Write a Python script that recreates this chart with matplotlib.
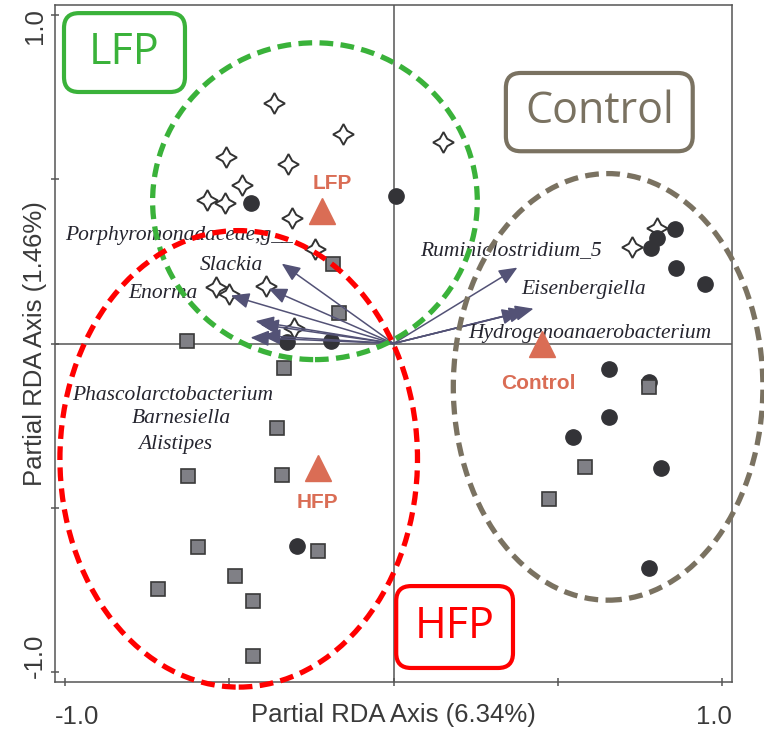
import numpy as np
import matplotlib
matplotlib.use('Agg')
import matplotlib.pyplot as plt
from matplotlib.patches import Ellipse, FancyBboxPatch

# Sample scores
lfp_x = [-0.365, -0.155, 0.152, -0.511, -0.322, -0.462, -0.568, -0.514, -0.310,
         -0.240, -0.541, -0.501, -0.389, -0.304, 0.726, 0.802]
lfp_y = [0.733, 0.638, 0.614, 0.568, 0.547, 0.483, 0.438, 0.429, 0.383,
         0.289, 0.173, 0.152, 0.176, 0.046, 0.295, 0.350]

ctrl_x = [-0.435, 0.009, -0.325, -0.191, 0.857, 0.802, 0.784, 0.860, 0.948,
          0.657, 0.778, 0.657, 0.547, 0.815, 0.778, -0.295]
ctrl_y = [0.429, 0.450, 0.006, 0.009, 0.347, 0.322, 0.292, 0.231, 0.182,
          -0.079, -0.118, -0.225, -0.286, -0.380, -0.684, -0.617]

hfp_x = [-0.185, -0.167, -0.629, -0.334, -0.356, -0.626, -0.340, -0.596, -0.231,
         -0.483, -0.717, -0.429, -0.429, 0.778, 0.584, 0.474]
hfp_y = [0.243, 0.094, 0.009, -0.076, -0.258, -0.404, -0.401, -0.620, -0.632,
         -0.708, -0.748, -0.784, -0.951, -0.131, -0.377, -0.474]

# Group centroids
groups = ['LFP', 'HFP', 'Control']
cent_x = [-0.219, -0.229, 0.453]
cent_y = [0.404, -0.378, 0.000]
cent_lab_x = [-0.185, -0.231, 0.441]
cent_lab_y = [0.488, -0.485, -0.122]

# Genus vectors (arrow tips)
arrow_x = [-0.340, -0.380, -0.495, -0.420, -0.405, -0.435, -0.400, 0.377, 0.426, 0.407, 0.386]
arrow_y = [0.243, 0.167, 0.146, 0.068, 0.058, 0.018, 0.024, 0.231, 0.106, 0.100, 0.095]

genus = ['Porphyromonadaceae,g__', 'Slackia', 'Enorma', 'Ruminiclostridium_5',
         'Eisenbergiella', 'Hydrogenoanaerobacterium', 'Phascolarctobacterium',
         'Barnesiella', 'Alistipes']
genus_x = [-0.652, -0.492, -0.702, 0.356, 0.578, 0.596, -0.672, -0.647, -0.663]
genus_y = [0.328, 0.237, 0.152, 0.283, 0.164, 0.030, -0.158, -0.228, -0.307]

# Confidence ellipses: centre x, centre y, width, height
ell_x = [-0.239, -0.471, 0.653]
ell_y = [0.433, -0.351, -0.132]
ell_w = [0.988, 1.088, 0.942]
ell_h = [0.964, 1.389, 1.298]

green = '#3AB23A'
red = '#FF0000'
brown = '#7A7261'
coral = '#DA6D55'
arrow_col = '#535276'
axis_col = '#555555'
label_col = '#3A3A3A'
ell_cols = [green, red, brown]

fig = plt.figure(figsize=(7.64, 7.29), dpi=100)
ax = fig.add_axes([55/764, 47/729, 677/764, 677/729])
ax.set_xlim(-1.03, 1.03)
ax.set_ylim(-1.03, 1.03)

# zero lines
ax.axhline(0, color=axis_col, lw=1.1, zorder=1)
ax.axvline(0, color=axis_col, lw=1.1, zorder=1)

# samples
ax.plot(lfp_x, lfp_y, ls='none', marker=(4, 1, 0), ms=15, mfc='white',
        mec='#333333', mew=1.4, zorder=2)
ax.plot(ctrl_x, ctrl_y, ls='none', marker='o', ms=11, mfc='#333337',
        mec='#333337', zorder=2.1)
ax.plot(hfp_x, hfp_y, ls='none', marker='s', ms=10, mfc='#808086',
        mec='#3A3A3A', mew=1.2, zorder=2.2)

# genus vectors
for tx, ty in zip(arrow_x, arrow_y):
    ax.annotate('', xy=(tx, ty), xytext=(0, 0),
                arrowprops=dict(arrowstyle='-|>,head_length=0.7,head_width=0.3',
                                color=arrow_col, lw=1.1,
                                mutation_scale=16, shrinkA=0, shrinkB=0),
                zorder=3)

for name, gx, gy in zip(genus, genus_x, genus_y):
    ax.text(gx, gy, name, ha='center', va='center', fontsize=15.5,
            family='Liberation Serif', style='italic', color='#25252F', zorder=3.5)

# centroids
ax.plot(cent_x, cent_y, ls='none', marker='^', ms=19, mfc=coral, mec=coral, zorder=3.6)
for g, lx, ly in zip(groups, cent_lab_x, cent_lab_y):
    ax.text(lx, ly, g, ha='center', va='center', fontsize=15, fontweight='bold',
            family='Liberation Sans', color=coral, zorder=3.6)

# dashed ellipses
for cx, cy, w, h, c in zip(ell_x, ell_y, ell_w, ell_h, ell_cols):
    ax.add_patch(Ellipse((cx, cy), w, h, fill=False, ec=c, lw=3.8,
                         ls=(0, (2.6, 1.4)), clip_on=False, zorder=4))

# group boxes (axes fraction)
boxes = [('LFP', 0.0133, 0.8715, 0.1787, 0.1165, green),
         ('Control', 0.666, 0.784, 0.276, 0.1156, brown),
         ('HFP', 0.504, 0.0207, 0.1725, 0.121, red)]
for txt, bx, by, bw, bh, c in boxes:
    ax.add_patch(FancyBboxPatch((bx, by), bw, bh, boxstyle='round,pad=0,rounding_size=0.022',
                                transform=ax.transAxes, fc='white', ec=c, lw=3,
                                zorder=5, clip_on=False))
    ax.text(bx + bw/2, by + bh/2, txt, transform=ax.transAxes, ha='center',
            va='center', fontsize=31, family='Open Sans', color=c, zorder=6)

# frame and ticks
for s in ax.spines.values():
    s.set_color(axis_col)
    s.set_linewidth(1.1)
ax.set_xticks([-1, -0.5, 0, 0.5, 1])
ax.set_yticks([-1, -0.5, 0, 0.5, 1])
ax.set_xticklabels([])
ax.set_yticklabels([])
ax.tick_params(direction='inout', length=6, width=1.1, color=axis_col)

# tick labels and axis titles placed like the original
tk = dict(fontsize=18.5, family='Liberation Sans', color=label_col, transform=ax.transAxes)
ax.text(0.0, -0.062, '-1.0', ha='left', va='baseline', **tk)
ax.text(1.0, -0.062, '1.0', ha='right', va='baseline', **tk)
ax.text(0.5, -0.059, 'Partial RDA Axis (6.34%)', ha='center', va='baseline', **tk)
ax.text(-0.019, 0.995, '1.0', ha='right', va='baseline', rotation=90,
        rotation_mode='anchor', **tk)
ax.text(-0.019, 0.006, '-1.0', ha='left', va='baseline', rotation=90,
        rotation_mode='anchor', **tk)
ax.text(-0.019, 0.5, 'Partial RDA Axis (1.46%)', ha='center', va='baseline', rotation=90,
        rotation_mode='anchor', **tk)

fig.savefig('out.png', dpi=100)
